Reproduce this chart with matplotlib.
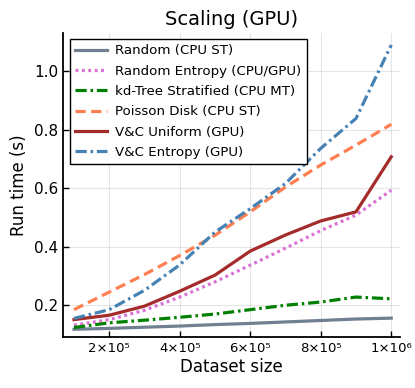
import matplotlib
matplotlib.use('Agg')
import matplotlib.pyplot as plt

# dataset sizes
sizes = [100000, 200000, 300000, 400000, 500000, 600000, 700000, 800000, 900000, 1000000]

# run times (s)
random_cpu = [0.118, 0.121, 0.125, 0.129, 0.134, 0.138, 0.143, 0.148, 0.153, 0.156]
random_entropy = [0.132, 0.151, 0.183, 0.228, 0.280, 0.337, 0.395, 0.455, 0.508, 0.593]
kdtree = [0.124, 0.140, 0.149, 0.159, 0.170, 0.185, 0.200, 0.211, 0.228, 0.222]
poisson = [0.185, 0.245, 0.305, 0.370, 0.439, 0.519, 0.604, 0.679, 0.747, 0.818]
vc_uniform = [0.151, 0.166, 0.197, 0.248, 0.303, 0.385, 0.440, 0.488, 0.519, 0.707]
vc_entropy = [0.155, 0.185, 0.251, 0.338, 0.450, 0.530, 0.616, 0.736, 0.838, 1.089]

xtick_vals = [200000, 400000, 600000, 800000, 1000000]
xtick_labels = ['2×10⁵', '4×10⁵', '6×10⁵', '8×10⁵', '1×10⁶']
ytick_vals = [0.2, 0.4, 0.6, 0.8, 1.0]

fig = plt.figure(figsize=(4.15, 3.88), dpi=100)
ax = fig.add_axes([0.152, 0.131, 0.812, 0.784])

lw = 2.3
ax.plot(sizes, random_cpu, color='#708090', lw=lw, label='Random (CPU ST)')
ax.plot(sizes, random_entropy, color='#DA70D6', lw=lw, ls=(0, (0.9, 1.1)), label='Random Entropy (CPU/GPU)')
ax.plot(sizes, kdtree, color='#008000', lw=lw, ls=(0, (3.5, 1.2, 0.8, 1.2)), label='kd-Tree Stratified (CPU MT)')
ax.plot(sizes, poisson, color='#FF7F50', lw=lw, ls=(0, (3.2, 1.7)), label='Poisson Disk (CPU ST)')
ax.plot(sizes, vc_uniform, color='#A52A2A', lw=lw, label='V&C Uniform (GPU)')
ax.plot(sizes, vc_entropy, color='#4682B4', lw=lw, ls=(0, (3.5, 1.2, 0.8, 1.2)), label='V&C Entropy (GPU)')

ax.set_xlim(69000, 1025000)
ax.set_ylim(0.091, 1.13)
ax.set_xticks(xtick_vals)
ax.set_xticklabels(xtick_labels, fontsize=9.5)
ax.set_yticks(ytick_vals)
ax.set_yticklabels(['0.2', '0.4', '0.6', '0.8', '1.0'], fontsize=11)
ax.tick_params(direction='in', length=4, width=1, colors='black')

ax.grid(True, color='black', alpha=0.1, lw=0.8)
for s in ['top', 'right']:
    ax.spines[s].set_visible(False)
for s in ['left', 'bottom']:
    ax.spines[s].set_linewidth(1.3)

ax.set_title('Scaling (GPU)', fontsize=14, pad=6)
ax.set_xlabel('Dataset size', fontsize=12, labelpad=2)
ax.set_ylabel('Run time (s)', fontsize=12, labelpad=4)

leg = ax.legend(loc='upper left', bbox_to_anchor=(0.02, 0.98), borderaxespad=0,
                fontsize=9.6, fancybox=False, framealpha=1, edgecolor='black',
                handlelength=2.4, handletextpad=0.6, labelspacing=0.55,
                borderpad=0.4)
leg.get_frame().set_linewidth(1.0)

fig.savefig('out.png', dpi=100)
